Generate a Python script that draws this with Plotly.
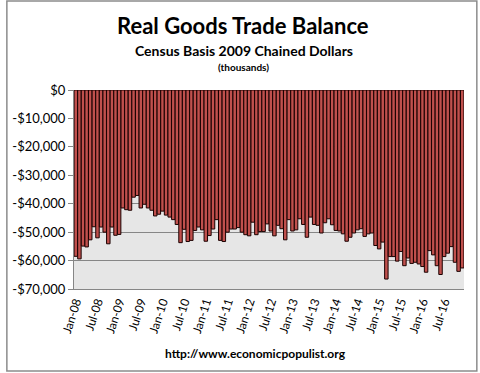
import plotly.graph_objects as go

months = ["Jan", "Feb", "Mar", "Apr", "May", "Jun", "Jul", "Aug", "Sep", "Oct", "Nov", "Dec"]
years = list(range(8, 17))
categories = [f"{m}-{y:02d}" for y in years for m in months]

balance = [
    -58500, -59400, -54900, -55200, -52700, -48100, -52000, -48200, -50000, -54100, -48200, -51100,
    -50800, -41500, -42100, -42300, -37700, -37100, -41500, -40200, -41500, -42300, -44300, -43700,
    -42600, -44000, -44700, -45600, -47300, -53700, -49000, -53300, -52900, -49400, -48200, -49200,
    -53200, -51200, -48900, -45600, -52900, -53300, -50000, -48900, -48900, -48400, -50000, -50900,
    -51300, -46500, -50900, -49800, -49800, -47100, -49600, -51300, -47600, -48800, -52700, -45600,
    -49600, -49200, -45300, -47300, -51800, -44700, -47300, -47600, -50300, -46700, -45300, -47400,
    -49400, -49600, -50600, -53200, -51800, -50300, -49200, -48800, -51500, -50600, -50300, -54700,
    -55900, -53500, -66500, -58600, -58600, -60200, -56800, -61800, -59100, -61000, -60600, -61200,
    -62100, -64100, -56500, -58000, -61800, -64900, -58600, -57400, -55100, -60600, -63800, -62600,
]

tick_labels = categories[::6]
y_ticks = [0, -10000, -20000, -30000, -40000, -50000, -60000, -70000]
y_tick_text = ["$0" if v == 0 else f"-${abs(v):,}" for v in y_ticks]

FONT = "Lato, 'Open Sans', sans-serif"

fig = go.Figure()
fig.add_trace(go.Bar(
    x=categories, y=balance,
    marker=dict(color="#C0504D", line=dict(color="#1a0000", width=1)),
    hoverinfo="x+y",
))

W, H = 480, 373
L, R, T, B = 69, 16, 90, 84
pw, ph = W - L - R, H - T - B

def px_x(p):
    return (p - L) / pw

def px_y(p):
    return (H - B - p) / ph

def label(text, cx, cy, size):
    return dict(text=text, x=px_x(cx), y=px_y(cy), xref="paper", yref="paper",
                xanchor="center", yanchor="middle", showarrow=False,
                font=dict(size=size, family=FONT))

fig.update_layout(
    width=W, height=H,
    margin=dict(l=L, r=R, t=T, b=B, pad=0),
    paper_bgcolor="white",
    plot_bgcolor="#E6E6E6",
    bargap=0.04,
    showlegend=False,
    font=dict(family=FONT, color="black"),
    xaxis=dict(
        type="category",
        tickmode="array", tickvals=tick_labels, ticktext=tick_labels,
        tickangle=-72, tickfont=dict(size=12, family=FONT),
        showgrid=False, showline=True, linecolor="#868686", linewidth=1,
        ticks="", range=[-0.5, len(categories) - 0.5],
    ),
    yaxis=dict(
        range=[-70000, 0],
        tickmode="array", tickvals=y_ticks, ticktext=y_tick_text,
        tickfont=dict(size=13, family=FONT),
        showgrid=True, gridcolor="#868686", gridwidth=1,
        showline=True, linecolor="#868686", linewidth=1,
        ticks="outside", ticklen=5, tickcolor="#868686",
        zeroline=False,
    ),
    annotations=[
        label("<b>Real Goods Trade Balance</b>", 240, 25, 22),
        label("<b>Census Basis 2009 Chained Dollars</b>", 241, 50, 14),
        label("<b>(thousands)</b>", 241, 67, 10),
        label("<b>http://www.economicpopulist.org</b>", 253, 353, 12),
    ],
    shapes=[
        dict(type="rect", xref="paper", yref="paper",
             x0=px_x(1), x1=px_x(477), y0=px_y(1), y1=px_y(371),
             line=dict(color="#8C8C8C", width=1.5), fillcolor="rgba(0,0,0,0)", layer="below"),
    ],
)

fig.write_html("out.html", config={"displayModeBar": False},
               post_script="document.body.style.margin='0px';")
